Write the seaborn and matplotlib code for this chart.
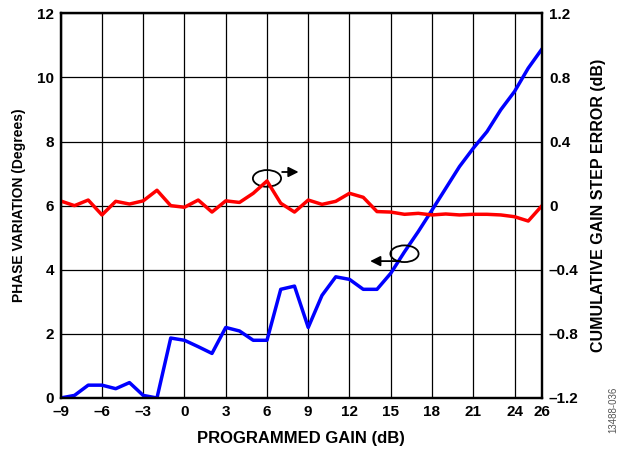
import matplotlib
matplotlib.use("Agg")
import matplotlib.pyplot as plt
from matplotlib.patches import Ellipse
import numpy as np
import pandas as pd
import seaborn as sns

# gain steps (dB)
gain = list(range(-9, 27))

# phase variation (degrees), left axis
phase = [0.0, 0.08, 0.4, 0.4, 0.29, 0.48, 0.08, 0.0, 1.87, 1.8, 1.6, 1.39,
         2.2, 2.09, 1.8, 1.8, 3.39, 3.49, 2.2, 3.2, 3.78, 3.7, 3.39, 3.39,
         3.89, 4.56, 5.19, 5.86, 6.54, 7.22, 7.79, 8.31, 8.99, 9.56, 10.29, 10.89]

# cumulative gain step error (dB), right axis
gain_err = [0.029, 0.0, 0.035, -0.058, 0.027, 0.01, 0.03, 0.096, 0.0, -0.01,
            0.035, -0.04, 0.03, 0.02, 0.077, 0.154, 0.015, -0.04, 0.035, 0.008,
            0.027, 0.077, 0.052, -0.037, -0.04, -0.054, -0.048, -0.058, -0.052,
            -0.058, -0.054, -0.054, -0.058, -0.069, -0.096, 0.0]

x_ticks = [-9, -6, -3, 0, 3, 6, 9, 12, 15, 18, 21, 24, 26]

df = pd.DataFrame({"gain": gain, "phase": phase, "err": gain_err})

sns.set_style("white")
plt.rcParams["font.family"] = ["Liberation Sans", "DejaVu Sans"]
plt.rcParams["font.weight"] = "bold"
plt.rcParams["text.color"] = "black"
plt.rcParams["axes.labelcolor"] = "black"
plt.rcParams["xtick.color"] = "black"
plt.rcParams["ytick.color"] = "black"

fig = plt.figure(figsize=(6.24, 4.5), dpi=100)
ax = fig.add_axes([0.0973, 0.1156, 0.7713, 0.8548])
ax2 = ax.twinx()

sns.lineplot(data=df, x="gain", y="phase", ax=ax, color="#0000ff", lw=2.5)
sns.lineplot(data=df, x="gain", y="err", ax=ax2, color="#ff0000", lw=2.5)

ax.set_xlim(-9, 26)
ax.set_ylim(0, 12)
ax2.set_ylim(-1.2, 1.2)
ax.set_xticks(x_ticks)
ax.set_yticks(np.arange(0, 13, 2))
ax2.set_yticks([-1.2, -0.8, -0.4, 0, 0.4, 0.8, 1.2])
ax2.set_yticklabels(["\u20131.2", "\u20130.8", "\u20130.4", "0", "0.4", "0.8", "1.2"])
ax.set_xticklabels([str(t).replace("-", "\u2013") for t in x_ticks])

ax.grid(True, color="black", lw=0.9)
ax.set_axisbelow(True)
for a in (ax, ax2):
    for s in a.spines.values():
        s.set_color("black")
        s.set_linewidth(1.6)
    a.tick_params(labelsize=11, length=0, pad=5, colors="black")
for lab in ax.get_xticklabels() + ax.get_yticklabels() + ax2.get_yticklabels():
    lab.set_fontweight("bold")

ax.set_xlabel("PROGRAMMED GAIN (dB)", fontsize=12, fontweight="bold", labelpad=9)
ax.set_ylabel("PHASE VARIATION (Degrees)", fontsize=10, fontweight="bold", labelpad=8)
ax2.set_ylabel("CUMULATIVE GAIN STEP ERROR (dB)", fontsize=11.5, fontweight="bold", labelpad=9)

# callout ellipses with arrows
ax.add_patch(Ellipse((6.0, 6.85), 2.05, 0.52, fill=False, ec="black", lw=1.3, zorder=5))
ax.annotate("", xy=(8.5, 7.05), xytext=(6.9, 7.05),
            arrowprops=dict(arrowstyle="-|>", color="black", lw=1.3, mutation_scale=15))
ax.add_patch(Ellipse((16.0, 4.5), 2.05, 0.52, fill=False, ec="black", lw=1.3, zorder=5))
ax.annotate("", xy=(13.3, 4.27), xytext=(15.9, 4.27),
            arrowprops=dict(arrowstyle="-|>", color="black", lw=1.3, mutation_scale=15))

fig.text(0.983, 0.09, "13488-036", rotation=90, fontsize=7, color="#555555",
         fontweight="normal", ha="center", va="center")

fig.savefig("out.png", dpi=100)
